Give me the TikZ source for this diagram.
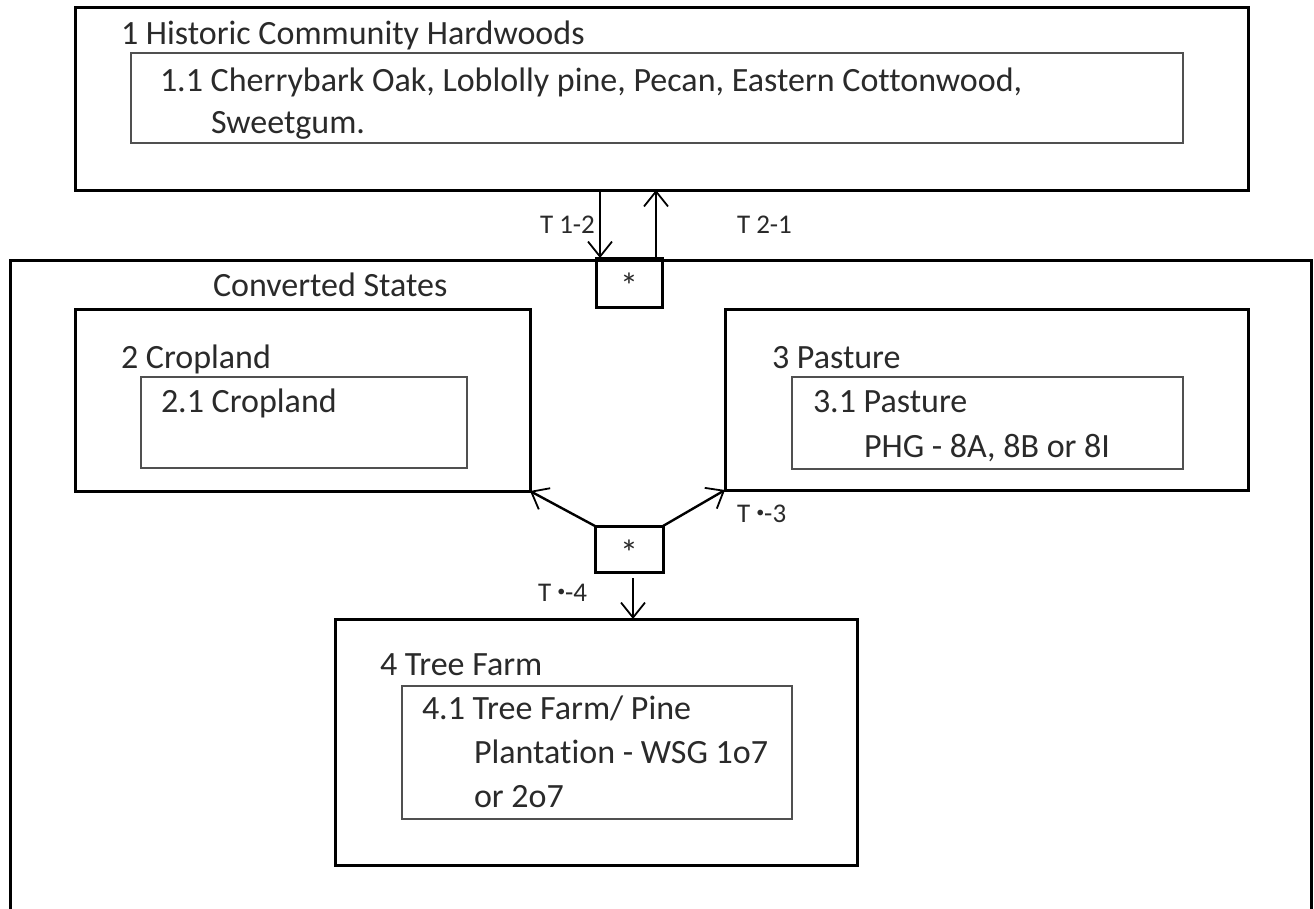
\documentclass[tikz,border=0pt]{standalone}
\usepackage{fontspec}
\setmainfont[Ligatures=NoCommon]{Carlito}
\usetikzlibrary{arrows.meta}
\definecolor{txt}{HTML}{2A2A2A}
\definecolor{innerline}{HTML}{505050}
\newcommand{\smalldot}{\raisebox{5pt}{\fontsize{16}{16}\selectfont •}}
\newcommand{\starmark}{\raisebox{-16pt}[0pt][0pt]{*}}
\begin{document}
\begin{tikzpicture}[x=1pt,y=-1pt,
  statebox/.style={draw=black, line width=3pt, inner sep=0pt, outer sep=0pt, anchor=north west},
  phasebox/.style={draw=innerline, line width=2pt, inner sep=0pt, outer sep=0pt, anchor=north west},
  starbox/.style={draw=black, line width=3pt, inner sep=0pt, outer sep=0pt, font=\fontsize{36}{36}\selectfont, text=txt},
  lbl/.style={anchor=base west, inner sep=0pt, outer sep=0pt, text=txt, font=\fontsize{34}{40}\selectfont},
  tlbl/.style={anchor=base west, inner sep=0pt, outer sep=0pt, text=txt, font=\fontsize{27}{32}\selectfont},
  arr/.style={draw=black, line width=1.8pt, -{Straight Barb[length=15pt,width=24pt,line width=1.8pt]}}
]
\useasboundingbox (0,0) rectangle (1314,908);
\fill[white] (0,0) rectangle (1314,908);

% outer container (runs past the bottom edge)
\draw[black, line width=3pt] (10,915) -- (10,260) -- (1311,260) -- (1311,915);
\node[lbl] (conv) at (213,296) {Converted States};

% state 1
\node[statebox, minimum width=1173pt, minimum height=183pt] (s1) at (75,7) {};
\node[phasebox, minimum width=1052pt, minimum height=90pt] (p11) at (131,53) {};
\node[lbl] (s1t) at (121,44) {1 Historic Community Hardwoods};
\node[lbl] (p11a) at (160,91) {1.1 Cherrybark Oak, Loblolly pine, Pecan, Eastern Cottonwood,};
\node[lbl] (p11b) at (211,133) {Sweetgum.};

% star 1
\node[starbox, minimum width=66pt, minimum height=49pt] (st1) at (629,282.5) {\starmark};

% state 2
\node[statebox, minimum width=455pt, minimum height=182pt] (s2) at (75,309) {};
\node[phasebox, minimum width=326pt, minimum height=91pt] (p21) at (141,377) {};
\node[lbl] (s2t) at (121,368) {2 Cropland};
\node[lbl] (p21a) at (161,412) {2.1 Cropland};

% state 3
\node[statebox, minimum width=523pt, minimum height=181pt] (s3) at (725,309) {};
\node[phasebox, minimum width=391pt, minimum height=92pt] (p31) at (792,377) {};
\node[lbl] (s3t) at (772,368) {3 Pasture};
\node[lbl] (p31a) at (813,412) {3.1 Pasture};
\node[lbl] (p31b) at (864,457) {PHG - 8A, 8B or 8I};

% star 2
\node[starbox, minimum width=68pt, minimum height=46pt] (st2) at (629,549) {\starmark};

% state 4
\node[statebox, minimum width=522pt, minimum height=246pt] (s4) at (335,619) {};
\node[phasebox, minimum width=390pt, minimum height=133pt] (p41) at (402,686) {};
\node[lbl] (s4t) at (380,675) {4 Tree Farm};
\node[lbl] (p41a) at (422,719) {4.1 Tree Farm/ Pine};
\node[lbl] (p41b) at (474,763) {Plantation - WSG 1o7};
\node[lbl] (p41c) at (474,807) {or 2o7};

% transitions
\draw[arr] ([xshift=-29pt]st1.north |- s1.south) -- ([xshift=-29pt]st1.north);
\draw[arr] ([xshift=27pt]st1.north) -- ([xshift=27pt]st1.north |- s1.south);
\node[tlbl] (t12) at (540,233) {T 1-2};
\node[tlbl] (t21) at (737,233) {T 2-1};

\draw[arr, line width=2.4pt] (st2.north west) -- (s2.south east);
\draw[arr, line width=2.4pt] (st2.north east) -- (s3.south west);
\draw[arr] ([xshift=4pt,yshift=-6pt]st2.south) -- ([xshift=4pt]st2.south |- s4.north);
\node[tlbl] (t3) at (737,522) {T \smalldot-3};
\node[tlbl] (t4) at (538,601) {T \smalldot-4};
\end{tikzpicture}
\end{document}
